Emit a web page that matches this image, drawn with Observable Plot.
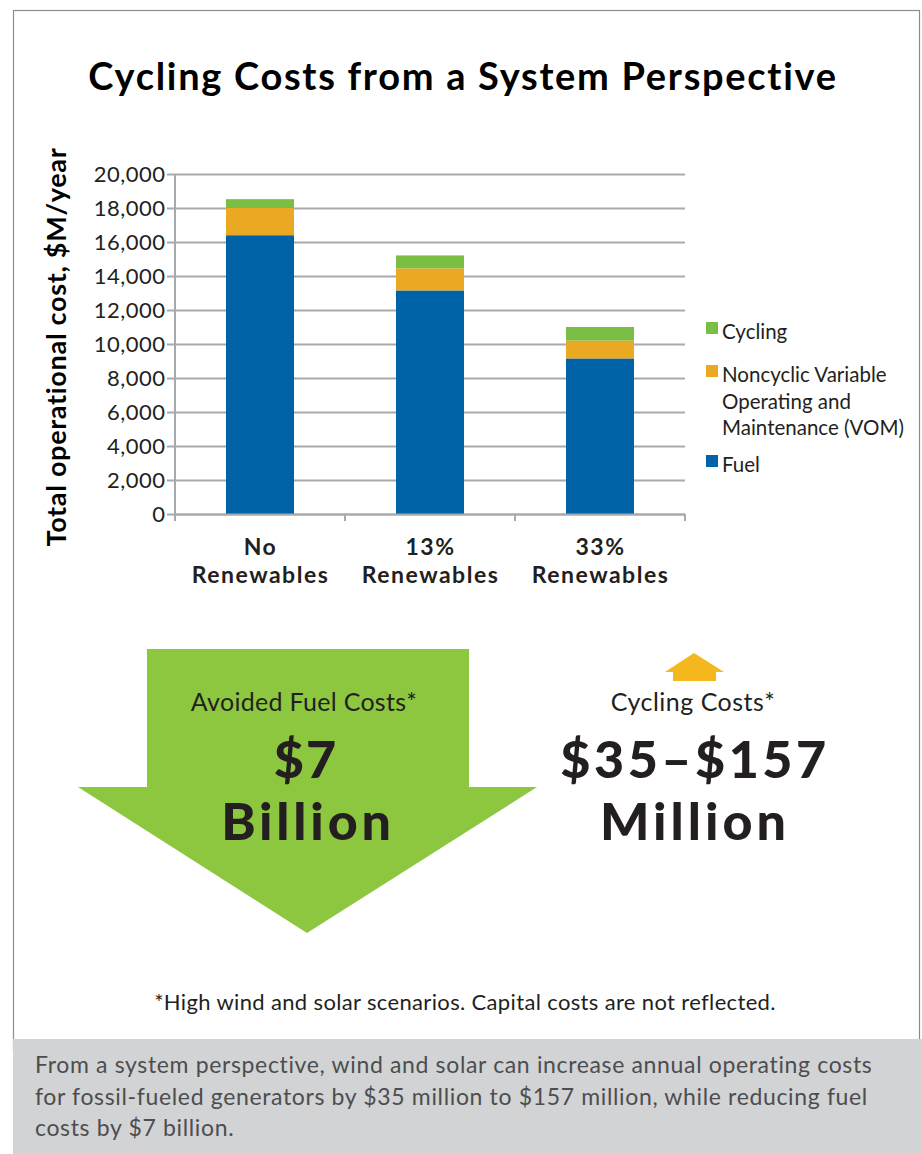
<!DOCTYPE html>
<html>
<head>
<meta charset="utf-8">
<script src="https://cdn.jsdelivr.net/npm/d3@7"></script>
<script src="https://cdn.jsdelivr.net/npm/@observablehq/plot@0.6"></script>
<style>
  html, body { margin: 0; padding: 0; background: #ffffff; }
  #page { position: relative; width: 922px; height: 1154px; overflow: hidden; font-family: Lato, "Open Sans", sans-serif; }
  #deco { position: absolute; left: 0; top: 0; }
  #chart { position: absolute; left: 0; top: 120px; }
</style>
</head>
<body>
<div id="page">
  <svg id="deco" width="922" height="1154"></svg>
  <div id="chart"></div>
</div>
<script>
// ---- data ----
const scenarios = ["No Renewables", "13% Renewables", "33% Renewables"];
const scenarioLabels = ["No\nRenewables", "13%\nRenewables", "33%\nRenewables"];
const components = ["Fuel", "Noncyclic Variable Operating and Maintenance (VOM)", "Cycling"];
const fuel = [16400, 13150, 9150];
const vom = [1600, 1300, 1050];
const cycling = [520, 760, 800];
const componentColors = ["#0063A7", "#EBA823", "#7BBE44"];
const yTicks = [0, 2000, 4000, 6000, 8000, 10000, 12000, 14000, 16000, 18000, 20000];
const legendItems = ["Cycling", "Noncyclic Variable\nOperating and\nMaintenance (VOM)", "Fuel"];
const legendColors = ["#7BBE44", "#EBA823", "#0063A7"];
const titleText = "Cycling Costs from a System Perspective";
const yTitle = "Total operational cost, $M/year";
const footnote = "*High wind and solar scenarios. Capital costs are not reflected.";
const captionLines = [
  "From a system perspective, wind and solar can increase annual operating costs",
  "for fossil-fueled generators by $35 million to $157 million, while reducing fuel",
  "costs by $7 billion."
];

const data = scenarios.flatMap((s, i) => [
  {scenario: s, component: components[0], value: fuel[i]},
  {scenario: s, component: components[1], value: vom[i]},
  {scenario: s, component: components[2], value: cycling[i]}
]);

const gridColor = "#a7a9ac";
const ink = "#231f20";

const chart = Plot.plot({
  width: 922,
  height: 480,
  marginTop: 54,
  marginBottom: 86,
  marginLeft: 174,
  marginRight: 237,
  style: {fontFamily: "Lato, 'Open Sans', sans-serif", background: "transparent", overflow: "visible"},
  x: {domain: scenarios, paddingInner: 0.6, paddingOuter: 0.3, axis: null},
  y: {domain: [0, 20000], axis: null},
  color: {domain: components, range: componentColors},
  marks: [
    Plot.gridY(yTicks, {stroke: gridColor, strokeOpacity: 1, strokeWidth: 2}),
    Plot.barY(data, {x: "scenario", y: "value", fill: "component"}),
    Plot.ruleY([0], {stroke: gridColor, strokeWidth: 2}),
    Plot.axisY(yTicks, {
      tickSize: 7, tickPadding: 2, tickFormat: d3.format(","),
      fontSize: 22, fill: ink, stroke: gridColor, strokeWidth: 2, label: null
    }),
    Plot.axisX({
      tickSize: 0, tickPadding: 21,
      tickFormat: d => scenarioLabels[scenarios.indexOf(d)],
      fontSize: 23, fontWeight: "bold", lineHeight: 1.2, fill: ink, label: null
    })
  ]
});
document.getElementById("chart").appendChild(chart);
d3.select(chart).selectAll("g[aria-label='y-axis tick label'] text").attr("letter-spacing", 0.5);
d3.select(chart).selectAll("g[aria-label='x-axis tick label'] text").attr("letter-spacing", 1.5);

// axis line and band-boundary ticks derived from the scales
const xs = chart.scale("x");
const ys = chart.scale("y");
const sel = d3.select(chart);
const yTop = ys.apply(ys.domain[1]);
const yBase = ys.apply(0);
const gap = (xs.step - xs.bandwidth) / 2;
const bounds = scenarios.map(d => xs.apply(d) - gap).concat([xs.apply(scenarios[scenarios.length - 1]) + xs.bandwidth + gap]);
sel.append("line").attr("x1", bounds[0]).attr("x2", bounds[0]).attr("y1", yTop).attr("y2", yBase)
  .attr("stroke", gridColor).attr("stroke-width", 2);
bounds.forEach(b => {
  sel.append("line").attr("x1", b).attr("x2", b).attr("y1", yBase).attr("y2", yBase + 7)
    .attr("stroke", gridColor).attr("stroke-width", 2);
});

// ---- decorations (page-level SVG) ----
const deco = d3.select("#deco");
deco.append("rect").attr("x", 13.5).attr("y", 10.5).attr("width", 906).attr("height", 1040)
  .attr("fill", "none").attr("stroke", "#8a8c8e").attr("stroke-width", 1.2);
deco.append("rect").attr("x", 13).attr("y", 1039).attr("width", 909).attr("height", 115).attr("fill", "#d1d3d4");

deco.append("text").attr("x", 463).attr("y", 90).attr("text-anchor", "middle")
  .attr("font-size", 38).attr("font-weight", 700).attr("letter-spacing", 1.7).attr("fill", "#000").text(titleText);

deco.append("text").attr("transform", "translate(66,347) rotate(-90)").attr("text-anchor", "middle")
  .attr("font-size", 27).attr("font-weight", 700).attr("letter-spacing", 0.7).attr("fill", "#000").text(yTitle);

// legend
const legendY = [332, 375, 465];
legendItems.forEach((label, i) => {
  const lines = label.split("\n");
  deco.append("rect").attr("x", 706).attr("y", legendY[i] - 10).attr("width", 12).attr("height", 12).attr("fill", legendColors[i]);
  const t = deco.append("text").attr("x", 722).attr("y", legendY[i] + 7).attr("font-size", 20.5).attr("fill", ink);
  lines.forEach((ln, j) => t.append("tspan").attr("x", 722).attr("dy", j === 0 ? 0 : 26.5).text(ln));
});

// green arrow (avoided fuel costs)
deco.append("polygon")
  .attr("points", "147,649 469,649 469,787 537,787 307,933 78,787 147,787")
  .attr("fill", "#8DC63F");
deco.append("text").attr("x", 304).attr("y", 711).attr("text-anchor", "middle").attr("font-size", 25)
  .attr("letter-spacing", 0.3).attr("fill", ink).text("Avoided Fuel Costs*");
deco.append("text").attr("x", 306).attr("y", 778).attr("text-anchor", "middle").attr("font-weight", 900)
  .attr("font-size", 52).attr("letter-spacing", 2).attr("fill", ink).text("$7");
deco.append("text").attr("x", 308).attr("y", 840).attr("text-anchor", "middle").attr("font-weight", 900)
  .attr("font-size", 52).attr("letter-spacing", 3.8).attr("fill", ink).text("Billion");

// small orange arrow (cycling costs)
deco.append("polygon")
  .attr("points", "694,653 724,672 716,672 716,681 673,681 673,672 665,672")
  .attr("fill", "#F4B71D");
deco.append("text").attr("x", 693).attr("y", 711).attr("text-anchor", "middle").attr("font-size", 25)
  .attr("letter-spacing", 0.5).attr("fill", ink).text("Cycling Costs*");
deco.append("text").attr("x", 695).attr("y", 778).attr("text-anchor", "middle").attr("font-weight", 900)
  .attr("font-size", 52).attr("letter-spacing", 3.5).attr("fill", ink).text("$35–$157");
deco.append("text").attr("x", 695).attr("y", 840).attr("text-anchor", "middle").attr("font-weight", 900)
  .attr("font-size", 52).attr("letter-spacing", 4).attr("fill", ink).text("Million");

deco.append("text").attr("x", 465).attr("y", 1010).attr("text-anchor", "middle").attr("font-size", 22)
  .attr("letter-spacing", 0.35).attr("fill", ink).text(footnote);

captionLines.forEach((ln, i) => {
  deco.append("text").attr("x", 35).attr("y", 1073 + i * 31.5).attr("font-size", 23)
    .attr("letter-spacing", 0.65).attr("fill", "#4d4d4f").text(ln);
});
</script>
</body>
</html>
